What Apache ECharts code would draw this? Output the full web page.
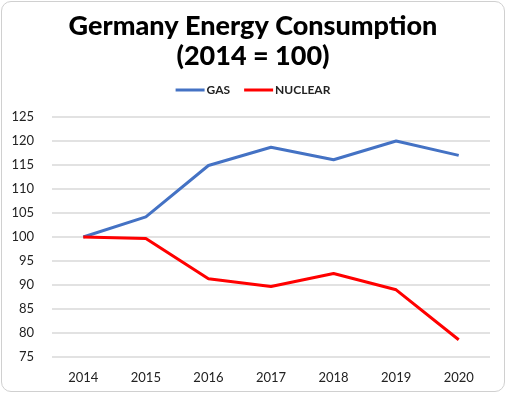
<!DOCTYPE html>
<html><head><meta charset="utf-8">
<script src="https://cdn.jsdelivr.net/npm/echarts@6/dist/echarts.min.js"></script>
<style>
html,body{margin:0;padding:0;background:#fff;}
#wrap{position:absolute;left:1px;top:1px;width:502px;height:389px;border:1px solid #d0d0d0;border-radius:10px;overflow:hidden;}
#c{width:506px;height:393px;position:absolute;left:-2px;top:-2px;}
</style></head>
<body><div id="wrap"><div id="c"></div></div>
<script>
const years = ['2014','2015','2016','2017','2018','2019','2020'];
const gas = [100, 104.2, 114.9, 118.7, 116.1, 120.0, 117.0];
const nuclear = [100, 99.7, 91.3, 89.7, 92.4, 89.0, 78.6];
const yTicks = [75, 80, 85, 90, 95, 100, 105, 110, 115, 120, 125];

const chart = echarts.init(document.getElementById('c'));
const font = 'Lato, "DejaVu Sans", sans-serif';
chart.setOption({
  animation: false,
  title: {
    text: 'Germany Energy Consumption\n(2014 = 100)',
    left: 'center', top: 6,
    textStyle: {fontFamily: font, fontSize: 27, fontWeight: 900, color: '#000', lineHeight: 30}
  },
  legend: {
    top: 79, left: 'center',
    itemWidth: 29, itemHeight: 3, itemGap: 14,
    icon: 'rect',
    textStyle: {fontFamily: font, fontSize: 12, fontWeight: 'bold', color: '#222', padding: [0,0,0,-3]},
    data: ['GAS', 'NUCLEAR']
  },
  grid: {left: 52, right: 16, top: 117, bottom: 36, containLabel: false, outerBoundsMode: 'none'},
  xAxis: {
    type: 'category', data: years, boundaryGap: true,
    axisLine: {show: false}, axisTick: {show: false},
    axisLabel: {fontFamily: font, fontSize: 13, color: '#222', margin: 14}
  },
  yAxis: {
    type: 'value', min: yTicks[0], max: yTicks[yTicks.length-1], interval: 5,
    axisLabel: {fontFamily: font, fontSize: 13, color: '#222', margin: 18},
    splitLine: {lineStyle: {color: '#d9d9d9', width: 1.5}}
  },
  series: [
    {name: 'GAS', type: 'line', data: gas, symbol: 'none', lineStyle: {color: '#4472C4', width: 3}, itemStyle: {color: '#4472C4'}},
    {name: 'NUCLEAR', type: 'line', data: nuclear, symbol: 'none', lineStyle: {color: '#FF0000', width: 3}, itemStyle: {color: '#FF0000'}}
  ]
});
</script></body></html>
